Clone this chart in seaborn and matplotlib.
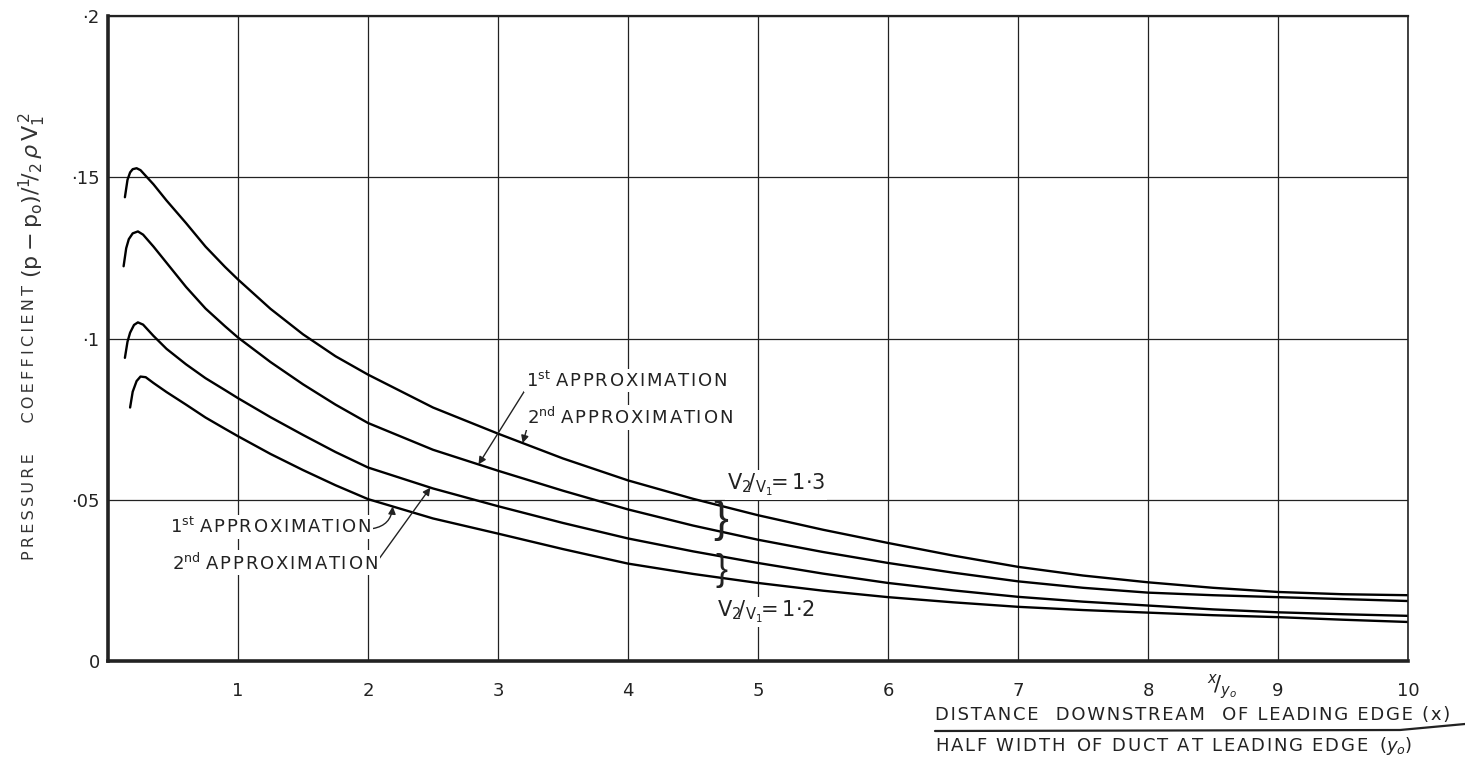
import matplotlib.pyplot as plt
import numpy as np
import pandas as pd
import seaborn as sns
from matplotlib.lines import Line2D

# Curve readings: x/y0 (distance downstream) and pressure coefficient
# V2/V1 = 1.3, 2nd approximation (top curve)
x_a = [0.13, 0.15, 0.17, 0.19, 0.22, 0.25, 0.3, 0.35, 0.45, 0.6, 0.75, 0.9, 1, 1.25, 1.5,
       1.75, 2, 2.5, 3, 3.5, 4, 4.5, 5, 5.5, 6, 6.5, 7, 7.5, 8, 8.5, 9, 9.5, 10]
cp_a = [0.1438, 0.1492, 0.1515, 0.1525, 0.1528, 0.1522, 0.1500, 0.1478, 0.1428, 0.1358,
        0.1285, 0.1222, 0.1183, 0.1092, 0.1013, 0.0945, 0.0888, 0.0786, 0.0705, 0.0628,
        0.0560, 0.0503, 0.0452, 0.0407, 0.0366, 0.0327, 0.0292, 0.0265, 0.0244, 0.0227,
        0.0214, 0.0207, 0.0204]
# V2/V1 = 1.3, 1st approximation
x_b = [0.12, 0.14, 0.16, 0.19, 0.23, 0.27, 0.35, 0.45, 0.6, 0.75, 0.9, 1, 1.25, 1.5,
       1.75, 2, 2.5, 3, 3.5, 4, 4.5, 5, 5.5, 6, 6.5, 7, 7.5, 8, 8.5, 9, 9.5, 10]
cp_b = [0.1224, 0.1280, 0.1308, 0.1326, 0.1332, 0.1322, 0.1285, 0.1235, 0.1160, 0.1093,
        0.1038, 0.1003, 0.0927, 0.0858, 0.0795, 0.0738, 0.0655, 0.0590, 0.0528, 0.0470,
        0.0420, 0.0376, 0.0338, 0.0304, 0.0274, 0.0247, 0.0227, 0.0212, 0.0204, 0.0198,
        0.0192, 0.0186]
# V2/V1 = 1.2, 2nd approximation
x_c = [0.13, 0.15, 0.17, 0.2, 0.23, 0.27, 0.35, 0.45, 0.6, 0.75, 0.9, 1, 1.25, 1.5,
       1.75, 2, 2.5, 3, 3.5, 4, 4.5, 5, 5.5, 6, 6.5, 7, 7.5, 8, 8.5, 9, 9.5, 10]
cp_c = [0.0940, 0.0990, 0.1018, 0.1042, 0.1050, 0.1043, 0.1008, 0.0968, 0.0920, 0.0877,
        0.0840, 0.0815, 0.0756, 0.0701, 0.0648, 0.0600, 0.0535, 0.0480, 0.0428, 0.0380,
        0.0340, 0.0304, 0.0271, 0.0242, 0.0219, 0.0199, 0.0184, 0.0172, 0.0160, 0.0151,
        0.0145, 0.0140]
# V2/V1 = 1.2, 1st approximation (bottom curve)
x_d = [0.17, 0.19, 0.22, 0.25, 0.29, 0.35, 0.45, 0.6, 0.75, 0.9, 1, 1.25, 1.5, 1.75,
       2, 2.5, 3, 3.5, 4, 4.5, 5, 5.5, 6, 6.5, 7, 7.5, 8, 8.5, 9, 9.5, 10]
cp_d = [0.0786, 0.0835, 0.0868, 0.0882, 0.0880, 0.0862, 0.0834, 0.0795, 0.0755, 0.0720,
        0.0697, 0.0642, 0.0592, 0.0545, 0.0502, 0.0442, 0.0395, 0.0347, 0.0302, 0.0270,
        0.0242, 0.0218, 0.0198, 0.0182, 0.0168, 0.0158, 0.0150, 0.0142, 0.0136, 0.0128,
        0.0121]

x_ticks = [1, 2, 3, 4, 5, 6, 7, 8, 9, 10]
y_ticks = [0, 0.05, 0.1, 0.15, 0.2]
y_tick_labels = ["0", "·05", "·1", "·15", "·2"]

curves = {
    "1.3 2nd": (x_a, cp_a),
    "1.3 1st": (x_b, cp_b),
    "1.2 2nd": (x_c, cp_c),
    "1.2 1st": (x_d, cp_d),
}
df = pd.concat(
    [pd.DataFrame({"x": xs, "cp": ys, "curve": name}) for name, (xs, ys) in curves.items()],
    ignore_index=True,
)

sns.set_style("white")
plt.rcParams["font.family"] = ["DejaVu Sans"]
plt.rcParams["mathtext.fontset"] = "dejavusans"

INK = "#222222"
W, H = 1465, 771
fig = plt.figure(figsize=(W / 100, H / 100), dpi=100)
ax = fig.add_axes([108 / W, 110 / H, 1300 / W, 645 / H])

sns.lineplot(data=df, x="x", y="cp", hue="curve", palette=["black"] * 4,
             estimator=None, sort=False, legend=False, lw=1.7, ax=ax)

ax.set_xlim(0, 10)
ax.set_ylim(0, 0.2)
ax.set_xticks(x_ticks, labels=[str(t) for t in x_ticks])
ax.set_yticks(y_ticks, labels=y_tick_labels)
ax.tick_params(axis="both", length=0, labelsize=13, colors=INK)
ax.tick_params(axis="x", pad=15)
ax.tick_params(axis="y", pad=6)
ax.set_xlabel("")
ax.set_ylabel("")
ax.grid(True, color=INK, lw=0.9)

for side, lw in {"left": 2.6, "bottom": 2.6, "top": 1.6, "right": 1.2}.items():
    ax.spines[side].set_color(INK)
    ax.spines[side].set_linewidth(lw)


def spaced(s, gap="\u200a"):
    # wide stencil-style lettering
    return gap.join(s)


def px(xp, yp):
    # pixel position in the picture -> data coordinates
    return (xp - 108) / 130, (661 - yp) * 0.05 / 161


def on_curve(key, xv):
    xs, ys = curves[key]
    return xv, float(np.interp(xv, xs, ys))


box = dict(boxstyle="square,pad=0.1", fc="white", ec="none")
arrow = dict(arrowstyle="-|>", color=INK, lw=1.0, mutation_scale=11, shrinkA=0, shrinkB=0)
first = r"1$^{\rm st}$ " + spaced("APPROXIMATION")
second = r"2$^{\rm nd}$ " + spaced("APPROXIMATION")

ax.annotate(first, xy=on_curve("1.3 1st", 2.85), xytext=px(526, 381),
            ha="left", va="center", fontsize=13, color=INK, bbox=box,
            arrowprops=dict(arrow, relpos=(0.0, 0.1)))
ax.annotate(second, xy=on_curve("1.3 2nd", 3.19), xytext=px(527, 418),
            ha="left", va="center", fontsize=13, color=INK, bbox=box,
            arrowprops=dict(arrow, relpos=(0.0, 0.0)))
ax.annotate(first, xy=on_curve("1.2 1st", 2.19), xytext=px(170, 527),
            ha="left", va="center", fontsize=13, color=INK, bbox=box,
            arrowprops=dict(arrow, relpos=(1.0, 0.4), connectionstyle="arc3,rad=0.4"))
ax.annotate(second, xy=on_curve("1.2 2nd", 2.48), xytext=px(172, 563),
            ha="left", va="center", fontsize=13, color=INK, bbox=box,
            arrowprops=dict(arrow, relpos=(1.0, 0.6)))

ax.text(*px(727, 485), r"$\mathrm{V}_2\!/_{\mathrm{V}_1}\!\!=1{\cdot}3$",
        ha="left", va="center", fontsize=15, color=INK, bbox=box)
ax.text(*px(717, 612), r"$\mathrm{V}_2\!/_{\mathrm{V}_1}\!\!=1{\cdot}2$",
        ha="left", va="center", fontsize=15, color=INK, bbox=box)
ax.text(*px(721, 521), "}", ha="center", va="center", fontsize=32, color=INK,
        family=["Liberation Sans", "DejaVu Sans"])
ax.text(*px(721, 571), "}", ha="center", va="center", fontsize=26, color=INK,
        family=["Liberation Sans", "DejaVu Sans"])

# axis titles
fig.text(30 / W, 1 - 422 / H, spaced("PRESSURE", "\u2009") + "      " + spaced("COEFFICIENT", "\u2009"),
         rotation=90, ha="center", va="center", fontsize=11.5, color="#333333")
fig.text(32 / W, 1 - 195 / H, r"$(\mathrm{p}-\mathrm{p_o})/{}^1\!/_2\,\rho\,\mathrm{V}_1^{\,2}$",
         rotation=90, ha="center", va="center", fontsize=16, color="#333333")
fig.text(1222 / W, 1 - 687 / H, r"${}^{x}\!/_{y_o}$", ha="center", va="center",
         fontsize=15, color=INK)
fig.text(935 / W, 1 - 715 / H,
         spaced("DISTANCE") + "   " + spaced("DOWNSTREAM") + "   " + spaced("OF LEADING EDGE (x)"),
         ha="left", va="center", fontsize=13, color=INK)
fig.text(935 / W, 1 - 746 / H,
         spaced("HALF WIDTH") + "  " + spaced("OF DUCT AT LEADING EDGE") + r"  $(y_o)$",
         ha="left", va="center", fontsize=13, color=INK)
fig.add_artist(Line2D([935 / W, 1400 / W, 1.0], [1 - 731 / H, 1 - 730 / H, 1 - 724 / H],
                      transform=fig.transFigure, color=INK, lw=1.6))

fig.savefig("out.png", dpi=100, facecolor="white")
